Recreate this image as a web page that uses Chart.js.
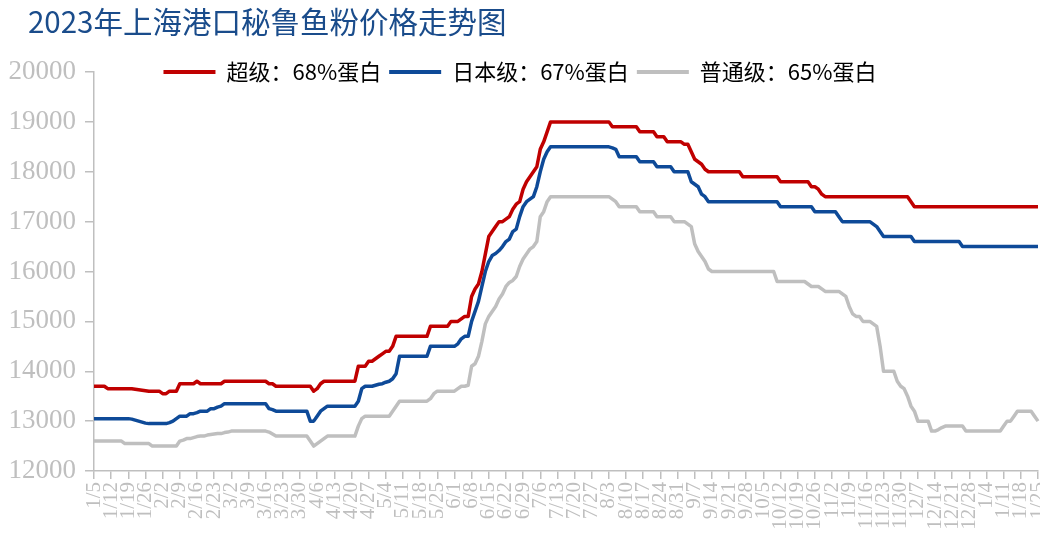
<!DOCTYPE html>
<html><head><meta charset="utf-8">
<script src="https://cdn.jsdelivr.net/npm/chart.js@4"></script>
<style>
html,body{margin:0;padding:0;background:#fff;overflow:hidden;width:1040px;height:544px;}
#wrap{position:relative;width:1040px;height:544px;}
#title{position:absolute;left:28px;top:0;line-height:40px;font-family:"Noto Sans CJK SC",sans-serif;font-size:29.5px;color:#1A4C8B;white-space:nowrap;}
canvas{position:absolute;left:0;top:0;}
</style></head><body>
<div id="wrap"><canvas id="c" width="1040" height="544"></canvas><div id="title">2023年上海港口秘鲁鱼粉价格走势图</div></div>
<script>
// weekly tick labels (one every 5 data points)
const tickLabels = ['1/5','1/12','1/19','1/26','2/2','2/9','2/16','2/23','3/2','3/9','3/16','3/23','3/30','4/6','4/13','4/20','4/27','5/4','5/11','5/18','5/25','6/1','6/8','6/15','6/22','6/29','7/6','7/13','7/20','7/27','8/3','8/10','8/17','8/24','8/31','9/7','9/14','9/21','9/28','10/5','10/12','10/19','10/26','11/2','11/9','11/16','11/23','11/30','12/7','12/14','12/21','12/28','1/4','1/11','1/18','1/25'];
const seriesNames = ['超级：68%蛋白','日本级：67%蛋白','普通级：65%蛋白'];

const superGrade = [
13700,13700,13700,13700,13650,13650,13650,13650,13650,13650,
13650,13650,13640,13630,13620,13610,13600,13600,13600,13600,
13550,13550,13600,13600,13600,13750,13750,13750,13750,13750,
13800,13750,13750,13750,13750,13750,13750,13750,13800,13800,
13800,13800,13800,13800,13800,13800,13800,13800,13800,13800,
13800,13750,13750,13700,13700,13700,13700,13700,13700,13700,
13700,13700,13700,13700,13600,13650,13750,13800,13800,13800,
13800,13800,13800,13800,13800,13800,13800,14100,14100,14100,
14200,14200,14250,14300,14350,14400,14400,14500,14700,14700,
14700,14700,14700,14700,14700,14700,14700,14700,14900,14900,
14900,14900,14900,14900,15000,15000,15000,15050,15100,15100,
15500,15650,15750,16000,16350,16700,16800,16900,17000,17000,
17050,17100,17250,17350,17400,17650,17800,17900,18000,18100,
18450,18600,18800,19000,19000,19000,19000,19000,19000,19000,
19000,19000,19000,19000,19000,19000,19000,19000,19000,19000,
19000,18900,18900,18900,18900,18900,18900,18900,18900,18800,
18800,18800,18800,18800,18700,18700,18700,18600,18600,18600,
18600,18600,18550,18550,18400,18250,18200,18150,18050,18000,
18000,18000,18000,18000,18000,18000,18000,18000,18000,17900,
17900,17900,17900,17900,17900,17900,17900,17900,17900,17900,
17800,17800,17800,17800,17800,17800,17800,17800,17800,17700,
17700,17650,17550,17500,17500,17500,17500,17500,17500,17500,
17500,17500,17500,17500,17500,17500,17500,17500,17500,17500,
17500,17500,17500,17500,17500,17500,17500,17500,17400,17300,
17300,17300,17300,17300,17300,17300,17300,17300,17300,17300,
17300,17300,17300,17300,17300,17300,17300,17300,17300,17300,
17300,17300,17300,17300,17300,17300,17300,17300,17300,17300,
17300,17300,17300,17300,17300,17300
];

const japanGrade = [
13050,13050,13050,13050,13050,13050,13050,13050,13050,13050,
13050,13040,13020,13000,12980,12960,12950,12950,12950,12950,
12950,12950,12970,13000,13050,13100,13100,13100,13150,13150,
13170,13200,13200,13200,13250,13250,13280,13300,13350,13350,
13350,13350,13350,13350,13350,13350,13350,13350,13350,13350,
13350,13250,13230,13200,13200,13200,13200,13200,13200,13200,
13200,13200,13200,13000,13000,13100,13200,13250,13300,13300,
13300,13300,13300,13300,13300,13300,13300,13400,13650,13700,
13700,13700,13720,13740,13750,13780,13800,13850,13950,14300,
14300,14300,14300,14300,14300,14300,14300,14300,14500,14500,
14500,14500,14500,14500,14500,14500,14550,14650,14700,14700,
15000,15200,15400,15700,16000,16200,16320,16360,16420,16500,
16600,16650,16800,16850,17100,17300,17400,17450,17500,17700,
18000,18250,18400,18500,18500,18500,18500,18500,18500,18500,
18500,18500,18500,18500,18500,18500,18500,18500,18500,18500,
18500,18480,18450,18300,18300,18300,18300,18300,18300,18200,
18200,18200,18200,18200,18100,18100,18100,18100,18100,18000,
18000,18000,18000,18000,17800,17750,17700,17550,17500,17400,
17400,17400,17400,17400,17400,17400,17400,17400,17400,17400,
17400,17400,17400,17400,17400,17400,17400,17400,17400,17400,
17300,17300,17300,17300,17300,17300,17300,17300,17300,17300,
17200,17200,17200,17200,17200,17200,17200,17100,17000,17000,
17000,17000,17000,17000,17000,17000,17000,16950,16900,16800,
16700,16700,16700,16700,16700,16700,16700,16700,16700,16600,
16600,16600,16600,16600,16600,16600,16600,16600,16600,16600,
16600,16600,16600,16500,16500,16500,16500,16500,16500,16500,
16500,16500,16500,16500,16500,16500,16500,16500,16500,16500,
16500,16500,16500,16500,16500,16500
];

const normalGrade = [
12600,12600,12600,12600,12600,12600,12600,12600,12600,12550,
12550,12550,12550,12550,12550,12550,12550,12500,12500,12500,
12500,12500,12500,12500,12500,12600,12620,12650,12650,12670,
12690,12700,12700,12720,12730,12740,12750,12750,12770,12780,
12800,12800,12800,12800,12800,12800,12800,12800,12800,12800,
12800,12780,12740,12700,12700,12700,12700,12700,12700,12700,
12700,12700,12700,12600,12500,12550,12600,12650,12700,12700,
12700,12700,12700,12700,12700,12700,12700,12900,13050,13100,
13100,13100,13100,13100,13100,13100,13100,13200,13300,13400,
13400,13400,13400,13400,13400,13400,13400,13400,13450,13550,
13600,13600,13600,13600,13600,13600,13650,13700,13700,13720,
14100,14150,14300,14600,14950,15100,15200,15300,15450,15550,
15700,15780,15820,15900,16100,16250,16350,16450,16500,16600,
17100,17200,17400,17500,17500,17500,17500,17500,17500,17500,
17500,17500,17500,17500,17500,17500,17500,17500,17500,17500,
17500,17450,17400,17300,17300,17300,17300,17300,17300,17200,
17200,17200,17200,17200,17100,17100,17100,17100,17100,17000,
17000,17000,17000,16950,16900,16550,16400,16300,16200,16050,
16000,16000,16000,16000,16000,16000,16000,16000,16000,16000,
16000,16000,16000,16000,16000,16000,16000,16000,16000,15800,
15800,15800,15800,15800,15800,15800,15800,15800,15750,15700,
15700,15700,15650,15600,15600,15600,15600,15600,15550,15500,
15300,15150,15100,15100,15000,15000,15000,14950,14900,14500,
14000,14000,14000,14000,13800,13700,13650,13500,13300,13200,
13000,13000,13000,13000,12800,12800,12830,12870,12900,12900,
12900,12900,12900,12900,12800,12800,12800,12800,12800,12800,
12800,12800,12800,12800,12800,12900,13000,13000,13100,13200,
13200,13200,13200,13200,13100,13000
];

const seriesColors = ['#C00000','#0E4A98','#BFBFBF'];

// category labels: a tick label every 5th point
const categories = [];
tickLabels.forEach((t, w) => {
  categories.push(t);
  if (w < tickLabels.length - 1) for (let k = 0; k < 4; k++) categories.push('');
});

const LEG_PAD = 8, LEG_FONT = 22, TOP = 72;
const AXIS = '#BFBFBF';

const legendPlace = {
  id: 'legendPlace',
  afterLayout(chart) {
    const l = chart.legend;
    if (!l) return;
    const h = l.height;
    l.left = 0; l.right = chart.width;
    l.top = chart.chartArea.top - LEG_PAD - LEG_FONT / 2;
    l.bottom = l.top + h;
  }
};

const cfg = {
  type: 'line',
  data: {
    labels: categories,
    datasets: [superGrade, japanGrade, normalGrade].map((d, i) => ({
      label: seriesNames[i], data: d, borderColor: seriesColors[i], backgroundColor: seriesColors[i]
    }))
  },
  options: {
    responsive: false, animation: false, devicePixelRatio: 1,
    layout: { padding: { top: 33, left: 0, right: 2, bottom: 0 } },
    elements: {
      line: { borderWidth: 3.5, tension: 0, borderJoinStyle: 'round' },
      point: { radius: 0, hoverRadius: 0 }
    },
    plugins: {
      legend: {
        position: 'top',
        labels: {
          boxWidth: 52, boxHeight: 4, padding: LEG_PAD, color: '#000',
          font: { family: '"Noto Sans CJK SC", sans-serif', size: LEG_FONT },
          generateLabels(chart) {
            return chart.data.datasets.map((d, i) => ({
              text: d.label, fillStyle: d.borderColor, strokeStyle: d.borderColor,
              lineWidth: 0, datasetIndex: i, hidden: false
            }));
          }
        }
      },
      tooltip: { enabled: false }
    },
    scales: {
      x: {
        type: 'category', offset: false,
        border: { display: true, color: AXIS, width: 1.5 },
        grid: {
          display: true, drawOnChartArea: false, drawTicks: true, tickLength: 8, lineWidth: 1.5,
          color: (c) => (categories[c.index] ? AXIS : 'rgba(0,0,0,0)')
        },
        ticks: {
          autoSkip: false, minRotation: 90, maxRotation: 90, padding: 3, color: AXIS,
          font: { family: '"Liberation Serif", serif', size: 21 },
          callback: (v, i) => categories[i]
        },
        afterFit(s) { s.height = 73; s.paddingLeft = 0; s.paddingRight = 0; }
      },
      y: {
        min: 12000, max: 20000,
        ticks: {
          stepSize: 1000, padding: 9, color: AXIS,
          font: { family: '"Liberation Serif", serif', size: 27 },
          callback: (v) => String(v)
        },
        border: { display: true, color: AXIS, width: 1.5 },
        grid: { display: true, drawOnChartArea: false, drawTicks: true, tickLength: 9, lineWidth: 1.5, color: AXIS },
        afterFit(s) { s.width = 94; s.paddingTop = 0; s.paddingBottom = 0; }
      }
    }
  },
  plugins: [legendPlace]
};

const chart = new Chart(document.getElementById('c'), cfg);
const dy = chart.chartArea.top - TOP;
if (Math.abs(dy) > 0.1) {
  chart.config.options.layout.padding.top -= dy;
  chart.update();
}
</script>
</body></html>
